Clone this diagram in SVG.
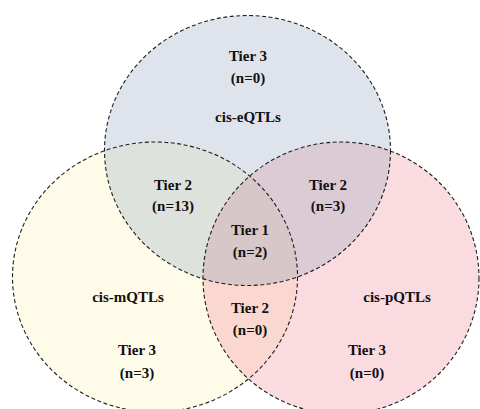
<svg xmlns="http://www.w3.org/2000/svg" width="480" height="409" viewBox="0 0 480 409">
<style>
.edge{fill:none;stroke:#1e1e1e;stroke-width:1.1;stroke-dasharray:4 2.5}
text{font-family:"Liberation Serif","Times New Roman",serif;font-weight:bold;font-size:15px;fill:#111111;text-anchor:middle}
</style>
<defs>
<clipPath id="cL"><ellipse cx="155" cy="277" rx="142.5" ry="135"/></clipPath>
<clipPath id="cR"><ellipse cx="341" cy="278" rx="138" ry="136"/></clipPath>
</defs>
<rect x="0" y="0" width="480" height="409" fill="#ffffff"/>
<g id="fills">
<ellipse cx="247.5" cy="150.5" rx="143" ry="135" fill="#dfe4ec"/>
<ellipse cx="155" cy="277" rx="142.5" ry="135" fill="#fefbe9"/>
<ellipse cx="341" cy="278" rx="138" ry="136" fill="#fadbe0"/>
<ellipse cx="247.5" cy="150.5" rx="143" ry="135" fill="#dde3dc" clip-path="url(#cL)"/>
<ellipse cx="247.5" cy="150.5" rx="143" ry="135" fill="#dacbd5" clip-path="url(#cR)"/>
<ellipse cx="155" cy="277" rx="142.5" ry="135" fill="#fad8d0" clip-path="url(#cR)"/>
<g clip-path="url(#cR)"><ellipse cx="247.5" cy="150.5" rx="143" ry="135" fill="#d8c7c8" clip-path="url(#cL)"/></g>
</g>
<g id="eqtl">
<ellipse class="edge" cx="247.5" cy="150.5" rx="143" ry="135"/>
<text x="248" y="61">Tier 3</text>
<text x="248" y="83">(n=0)</text>
<text x="248" y="122">cis-eQTLs</text>
</g>
<g id="mqtl">
<ellipse class="edge" cx="155" cy="277" rx="142.5" ry="135"/>
<text x="128" y="302">cis-mQTLs</text>
<text x="137" y="355">Tier 3</text>
<text x="137" y="378">(n=3)</text>
</g>
<g id="pqtl">
<ellipse class="edge" cx="341" cy="278" rx="138" ry="136"/>
<text x="397" y="302">cis-pQTLs</text>
<text x="367" y="355">Tier 3</text>
<text x="367" y="378">(n=0)</text>
</g>
<g id="e-m">
<text x="173" y="190">Tier 2</text>
<text x="173" y="211">(n=13)</text>
</g>
<g id="e-p">
<text x="328" y="190">Tier 2</text>
<text x="328" y="211">(n=3)</text>
</g>
<g id="e-m-p">
<text x="250" y="235">Tier 1</text>
<text x="250" y="257">(n=2)</text>
</g>
<g id="m-p">
<text x="250" y="313">Tier 2</text>
<text x="250" y="335">(n=0)</text>
</g>
</svg>
